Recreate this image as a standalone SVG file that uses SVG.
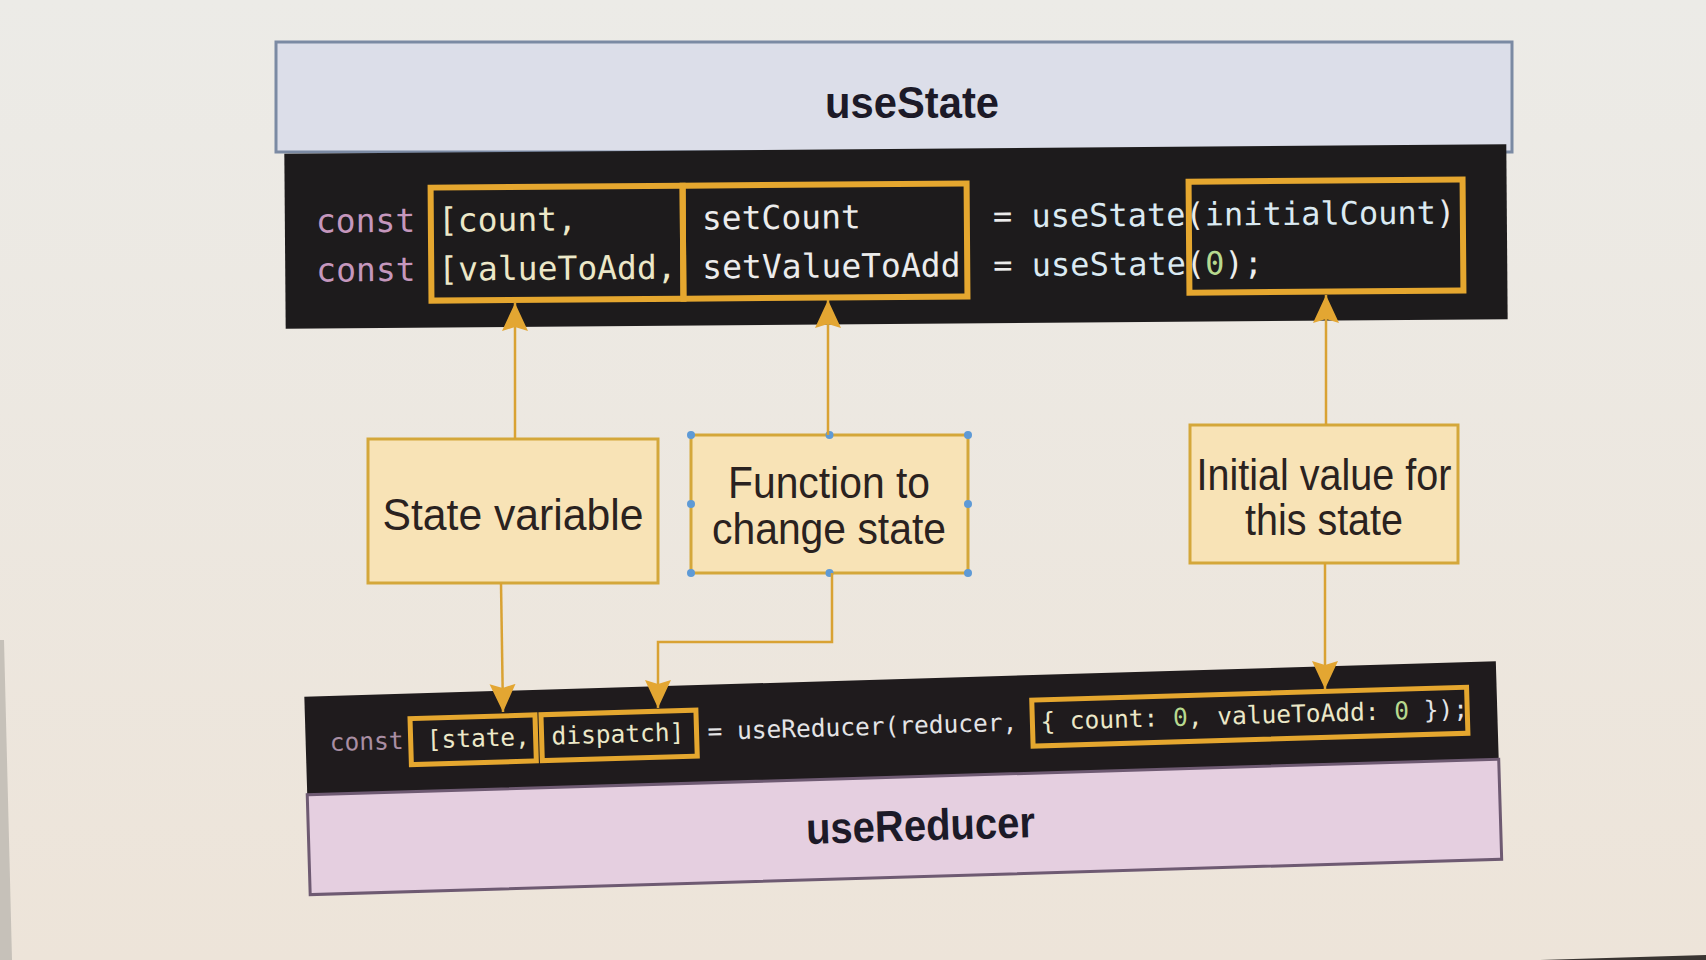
<svg xmlns="http://www.w3.org/2000/svg" width="1706" height="960" viewBox="0 0 1706 960">
  <defs>
    <linearGradient id="bg" x1="0" y1="0" x2="0" y2="1">
      <stop offset="0" stop-color="#ecebe7"/>
      <stop offset="1" stop-color="#ede4d9"/>
    </linearGradient>
    <marker id="arr" markerUnits="userSpaceOnUse" markerWidth="30" markerHeight="30" viewBox="0 0 30 30" refX="28" refY="15" orient="auto">
      <path d="M0,2 L28,15 L0,28 L4,15 Z" fill="#e3a632"/>
    </marker>
    <style>
      .title { font-family: "Liberation Sans", Arial, sans-serif; font-weight: bold; font-size: 44px; fill: #1c1a28; text-anchor: middle; }
      .lbl { font-family: "Liberation Sans", Arial, sans-serif; font-size: 44px; fill: #2a2220; text-anchor: middle; }
      .code { font-family: "DejaVu Sans Mono", "Liberation Mono", monospace; font-size: 33px; fill: #ececec; }
      .codeS { font-family: "DejaVu Sans Mono", "Liberation Mono", monospace; font-size: 24.5px; fill: #e4e4e6; }
      .kw { fill: #c597bd; }
      .kw2 { fill: #a98ea3; }
      .var { fill: #ece8c8; }
      .fn { fill: #dbeaf2; }
      .num { fill: #b7d98f; }
      .hl { fill: none; stroke: #e5a72f; stroke-width: 6; }
      .hlS { fill: none; stroke: #e5a72f; stroke-width: 5; }
      .node { fill: #f8e3b6; stroke: #d4a73a; stroke-width: 3; }
      .conn { fill: none; stroke: #d9a233; stroke-width: 2.5; marker-end: url(#arr); }
      .handle { fill: #5e9ad6; }
    </style>
  </defs>

  <rect x="0" y="0" width="1706" height="960" fill="url(#bg)"/>
  <polygon points="0,640 4,640 12,960 0,960" fill="#c6c1b9"/>
  <polygon points="1540,960 1706,955 1706,960" fill="#3a3532"/>

  <!-- useState header -->
  <g id="useState-header">
    <rect x="276" y="42" width="1236" height="110" fill="#dcdee9" stroke="#7b8aa3" stroke-width="3"/>
    <text class="title" x="912" y="118" textLength="174" lengthAdjust="spacingAndGlyphs">useState</text>
  </g>

  <!-- useState code band -->
  <g id="useState-code" transform="rotate(-0.45 895 238)">
    <rect x="285" y="149" width="1222" height="175" fill="#1d1b1c"/>
    <rect id="box-state-var" class="hl" x="431" y="184" width="252" height="113"/>
    <rect id="box-setter" class="hl" x="683" y="184" width="284" height="113"/>
    <rect id="box-initial" class="hl" x="1189" y="184" width="274" height="111"/>
    <text class="code" x="316" y="228"><tspan class="kw">const</tspan></text>
    <text class="code" x="438" y="228"><tspan class="var">[count,</tspan></text>
    <text class="code" x="702" y="228">setCount</text>
    <text class="code" x="993" y="228" style="font-size:32px">= <tspan class="fn">useState</tspan>(<tspan class="fn">initialCount</tspan>)</text>
    <text class="code" x="316" y="277"><tspan class="kw">const</tspan></text>
    <text class="code" x="438" y="277"><tspan class="var">[valueToAdd,</tspan></text>
    <text class="code" x="702" y="277">setValueToAdd</text>
    <text class="code" x="993" y="277" style="font-size:32px">= <tspan class="fn">useState</tspan>(<tspan class="num">0</tspan>);</text>
  </g>

  <!-- Middle nodes -->
  <g id="node-state-variable">
    <rect class="node" x="368" y="439" width="290" height="144"/>
    <text class="lbl" x="513" y="530" textLength="261" lengthAdjust="spacingAndGlyphs">State variable</text>
  </g>

  <g id="node-function">
    <rect class="node" x="691" y="435" width="277" height="138"/>
    <text class="lbl" x="829" y="498" textLength="202" lengthAdjust="spacingAndGlyphs">Function to</text>
    <text class="lbl" x="829" y="544" textLength="234" lengthAdjust="spacingAndGlyphs">change state</text>
    <circle class="handle" cx="691" cy="435" r="4"/>
    <circle class="handle" cx="829.5" cy="435" r="4"/>
    <circle class="handle" cx="968" cy="435" r="4"/>
    <circle class="handle" cx="691" cy="504" r="4"/>
    <circle class="handle" cx="968" cy="504" r="4"/>
    <circle class="handle" cx="691" cy="573" r="4"/>
    <circle class="handle" cx="829.5" cy="573" r="4"/>
    <circle class="handle" cx="968" cy="573" r="4"/>
  </g>

  <g id="node-initial-value">
    <rect class="node" x="1190" y="425" width="268" height="138"/>
    <text class="lbl" x="1324" y="490" textLength="255" lengthAdjust="spacingAndGlyphs">Initial value for</text>
    <text class="lbl" x="1324" y="535" textLength="158" lengthAdjust="spacingAndGlyphs">this state</text>
  </g>

  <!-- useReducer band -->
  <g id="useReducer" transform="rotate(-1.7 903 778)">
    <rect x="307" y="679" width="1192" height="99" fill="#1f1b1d"/>
    <rect x="307" y="777" width="1192" height="100" fill="#e5cfe0" stroke="#6e5a72" stroke-width="3"/>
    <rect id="box-state" class="hlS" x="412" y="704" width="125" height="46"/>
    <rect id="box-dispatch" class="hlS" x="543" y="704" width="155" height="46"/>
    <rect id="box-init-obj" class="hlS" x="1034" y="704" width="435" height="46"/>
    <text class="codeS" x="331" y="734"><tspan class="kw2">const</tspan></text>
    <text class="codeS" x="428" y="734"><tspan class="var">[state,</tspan></text>
    <text class="codeS" x="553" y="734"><tspan class="var">dispatch]</tspan></text>
    <text class="codeS" x="709" y="734">= useReducer(reducer,</text>
    <text class="codeS" x="1042" y="734"><tspan class="var">{ count: </tspan><tspan class="num">0</tspan><tspan class="var">, valueToAdd: </tspan><tspan class="num">0</tspan> });</text>
    <text class="title" x="919" y="841" textLength="229" lengthAdjust="spacingAndGlyphs">useReducer</text>
  </g>

  <!-- Connectors -->
  <g id="connectors">
    <path class="conn" d="M515,439 L515,303"/>
    <path class="conn" d="M828,435 L828,300"/>
    <path class="conn" d="M1326,425 L1326,295"/>
    <path class="conn" d="M501,583 L503,712"/>
    <path class="conn" d="M832,573 L832,642 L658,642 L658,708"/>
    <path class="conn" d="M1325,563 L1325,689"/>
  </g>
</svg>
